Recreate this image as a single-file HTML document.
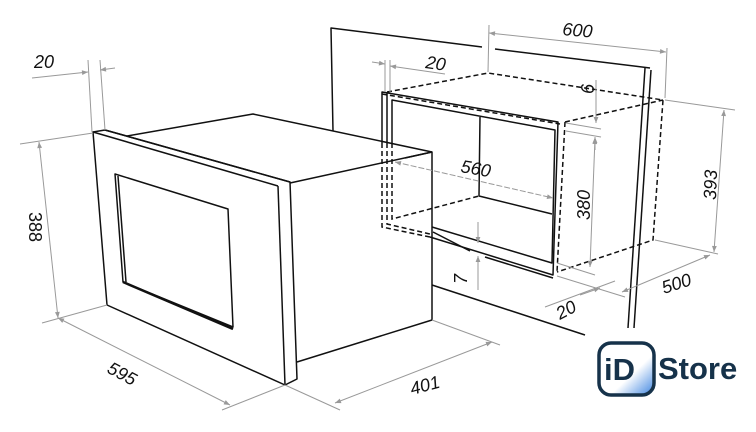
<!DOCTYPE html>
<html><head><meta charset="utf-8"><style>
html,body{margin:0;padding:0;background:#fff;width:756px;height:432px;overflow:hidden}
svg{display:block}
.d text{font-family:"Liberation Sans","DejaVu Sans",sans-serif;font-style:italic;fill:#111}
.logo{font-family:"Liberation Sans","DejaVu Sans",sans-serif;font-style:normal;font-weight:bold;fill:#16324a}
</style></head><body>
<svg width="756" height="432" viewBox="0 0 756 432" xmlns="http://www.w3.org/2000/svg">
<defs>
<marker id="a" viewBox="0 0 10 10" refX="10" refY="5" markerWidth="9" markerHeight="6" orient="auto-start-reverse"><path d="M0,1 L10,5 L0,9z" fill="#999"/></marker>
<linearGradient id="g" x1="0" y1="0" x2="1" y2="1"><stop offset="0.6" stop-color="#fff"/><stop offset="1" stop-color="#3d84e0"/></linearGradient>
</defs>
<g stroke="#111" stroke-width="1.5" fill="none" stroke-linejoin="round">
<polyline points="333,131 331,28 482,47"/>
<line x1="495" y1="49" x2="650" y2="68"/>
<line x1="645" y1="68" x2="628" y2="328"/>
<line x1="651" y1="70" x2="634" y2="328"/>
<line x1="432" y1="285" x2="585" y2="335"/>
<polyline points="127,136 253,114 432,152 432,320 297,362"/>
<line x1="290" y1="183" x2="432" y2="152"/>
<polygon points="93,132 105,130 290,182 297,379 285,385 107,305" fill="#fff"/>
<line x1="278" y1="186" x2="285" y2="385"/>
<line x1="93" y1="132" x2="278" y2="186"/>
<line x1="105" y1="130" x2="290" y2="182"/>
<polygon points="115,174 228,209 233,327 123,282"/>
<line x1="118" y1="176" x2="126" y2="282"/>
<line x1="123" y1="282" x2="233" y2="329" stroke-width="2.5"/>
<polyline points="382,143 382,92 558,122 553,275 430,237"/>
<line x1="387" y1="143" x2="387" y2="93"/>
<polyline points="392,143 392,100 555,130 552,263 432,227"/>
<polyline points="480,117 479,196 552,214"/>
<line x1="433" y1="232" x2="470" y2="251"/>
<line x1="485" y1="257" x2="553" y2="278"/>
<line x1="405" y1="158" x2="432" y2="152"/>
</g>
<g stroke="#111" stroke-width="1.5" fill="none" stroke-dasharray="5,3">
<polyline points="387,92 488,73 663,100 653,240 557,272"/>
<line x1="565" y1="122" x2="663" y2="100"/>
<line x1="565" y1="122" x2="557" y2="272"/>
<polyline points="382,143 382,227 430,237"/>
<polyline points="387,143 387,224 430,234"/>
<polyline points="392,143 392,219 479,196"/>
<line x1="382" y1="94" x2="560" y2="124"/>
</g>
<g stroke="#999" stroke-width="1" fill="none">
<line x1="88" y1="60" x2="92" y2="132"/><line x1="100" y1="60" x2="105" y2="130"/>
<line x1="32" y1="78" x2="88" y2="72" marker-end="url(#a)"/><line x1="115" y1="68" x2="100" y2="70" marker-end="url(#a)"/>
<line x1="20" y1="144" x2="93" y2="133"/><line x1="42" y1="323" x2="107" y2="305"/>
<line x1="39" y1="142" x2="58" y2="318" marker-start="url(#a)" marker-end="url(#a)"/>
<line x1="58" y1="318" x2="230" y2="405" marker-start="url(#a)" marker-end="url(#a)"/>
<line x1="222" y1="410" x2="285" y2="385"/>
<line x1="285" y1="385" x2="340" y2="410"/>
<line x1="432" y1="320" x2="500" y2="345"/>
<line x1="335" y1="403" x2="492" y2="342" marker-start="url(#a)" marker-end="url(#a)"/>
<line x1="489" y1="25" x2="488" y2="72"/><line x1="667" y1="48" x2="665" y2="98"/>
<line x1="489" y1="33" x2="666" y2="52" marker-start="url(#a)" marker-end="url(#a)"/>
<line x1="385" y1="60" x2="385" y2="92"/><line x1="390" y1="60" x2="390" y2="92"/>
<line x1="372" y1="62" x2="385" y2="64" marker-end="url(#a)"/><line x1="445" y1="74" x2="390" y2="66" marker-end="url(#a)"/>
<line x1="395" y1="162" x2="553" y2="198" marker-start="url(#a)" marker-end="url(#a)" stroke-dasharray="6,2"/>
<line x1="566" y1="123" x2="601" y2="129"/><line x1="566" y1="131" x2="601" y2="137"/>
<line x1="596" y1="80" x2="596" y2="123" marker-end="url(#a)"/><line x1="595" y1="150" x2="595" y2="137" marker-end="url(#a)"/>
<line x1="595" y1="138" x2="590" y2="267" marker-start="url(#a)" marker-end="url(#a)"/>
<line x1="557" y1="263" x2="595" y2="275"/>
<line x1="665" y1="100" x2="735" y2="110"/><line x1="655" y1="240" x2="718" y2="254"/>
<line x1="724" y1="110" x2="714" y2="252" marker-start="url(#a)" marker-end="url(#a)"/>
<line x1="622" y1="292" x2="710" y2="255" marker-start="url(#a)" marker-end="url(#a)"/>
<line x1="557" y1="276" x2="625" y2="297"/>
<line x1="545" y1="307" x2="615" y2="281"/>
<line x1="580" y1="295" x2="600" y2="288" marker-end="url(#a)"/>
<line x1="478" y1="222" x2="478" y2="243" marker-end="url(#a)"/><line x1="478" y1="290" x2="478" y2="256" marker-end="url(#a)"/>
</g>
<g class="d" font-size="18">
<text x="34" y="68">20</text>
<text x="29" y="212" transform="rotate(90 29 212)" style="font-style:normal">388</text>
<text x="106" y="372" transform="rotate(28 106 372)">595</text>
<text x="412" y="395" transform="rotate(-15 412 395)">401</text>
<text x="562" y="35" transform="rotate(5 562 35)">600</text>
<text x="425" y="68" transform="rotate(8 425 68)">20</text>
<text x="460" y="172" transform="rotate(10 460 172)">560</text>
<text x="594" y="94" transform="rotate(-90 594 94)">6</text>
<text x="590" y="220" transform="rotate(-90 590 220)">380</text>
<text x="716" y="200" transform="rotate(-88 716 200)">393</text>
<text x="664" y="294" transform="rotate(-18 664 294)">500</text>
<text x="560" y="320" transform="rotate(-28 560 320)">20</text>
<text x="467" y="284" transform="rotate(-90 467 284)">7</text>
</g>
<rect x="599" y="343" width="55" height="52" rx="12" fill="url(#g)" stroke="#16324a" stroke-width="3.5"/>
<text class="logo" x="604" y="380" font-size="31">iD</text>
<text class="logo" x="658" y="379" font-size="31">Store</text>
</svg>
</body></html>
